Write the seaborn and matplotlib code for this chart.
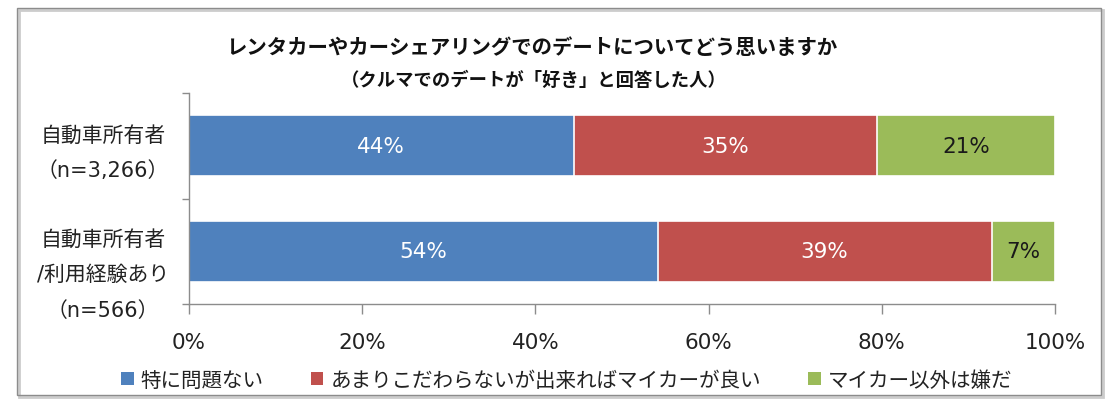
import matplotlib
matplotlib.use("Agg")
import matplotlib.pyplot as plt
from matplotlib.patches import Rectangle, Patch
from matplotlib.transforms import ScaledTranslation
import numpy as np
import seaborn as sns

# ---- data ----
categories = ["自動車所有者\n（n=3,266）", "自動車所有者\n/利用経験あり\n（n=566）"]
series_names = ["特に問題ない", "あまりこだわらないが出来ればマイカーが良い", "マイカー以外は嫌だ"]
no_problem = [44.4, 54.1]
prefer_own = [35.0, 38.6]
only_own = [20.6, 7.3]
x_ticks = [0, 20, 40, 60, 80, 100]
x_tick_labels = ["0%", "20%", "40%", "60%", "80%", "100%"]
title_line1 = "レンタカーやカーシェアリングでのデートについてどう思いますか"
title_line2 = "（クルマでのデートが「好き」と回答した人）"

colors = ["#4F81BD", "#C0504D", "#9BBB59"]
label_colors = ["white", "white", "#1a1a1a"]

sns.set_theme(style="white")
plt.rcParams["font.family"] = ["DejaVu Sans", "Noto Sans CJK JP"]
cjk = ["Noto Sans CJK JP", "DejaVu Sans"]

fig = plt.figure(figsize=(11.16, 4.06), dpi=100)
ax = fig.add_axes([189/1116, 101/406, 866/1116, 211/406])

series = [no_problem, prefer_own, only_own]
cum = np.cumsum(np.array(series), axis=0)  # shape (3, n)

# draw cumulative bars from the largest to the smallest so segments stack
for i in reversed(range(len(series))):
    sns.barplot(x=list(cum[i]), y=categories, orient="h", color=colors[i],
                width=0.58, edgecolor="white", linewidth=1.2, saturation=1,
                ax=ax)

# value labels
for i in range(len(series)):
    for j in range(len(categories)):
        start = cum[i][j] - series[i][j]
        ax.text(start + series[i][j] / 2, j, f"{series[i][j]:.0f}%",
                ha="center", va="center", color=label_colors[i], fontsize=15.5)

ax.set_xlim(0, 100)
ax.set_ylim(1.5, -0.5)
ax.set_xlabel("")
ax.set_ylabel("")
ax.set_xticks(x_ticks)
ax.set_xticklabels(x_tick_labels, fontsize=15.5, color="#222222")

ax.set_yticks(range(len(categories)))
ax.set_yticklabels(categories, fontsize=15, color="#222222",
                   ha="center", multialignment="center", linespacing=1.95)
ax.tick_params(axis="y", which="major", length=0, pad=62)
ax.set_yticks([-0.5, 0.5, 1.5], minor=True)
ax.tick_params(axis="y", which="minor", length=5, width=1, color="#8c8c8c",
               direction="out", left=True)
ax.tick_params(axis="x", which="major", length=7, width=1, color="#8c8c8c",
               direction="out", bottom=True, pad=13)
# small vertical nudges so the labels sit as in the original layout
ylabs = ax.get_yticklabels()
for lab, dy in zip(ylabs, [2.2, -9.7]):
    lab.set_transform(lab.get_transform() +
                      ScaledTranslation(0, dy/72, fig.dpi_scale_trans))

for side in ["top", "right"]:
    ax.spines[side].set_visible(False)
for side in ["left", "bottom"]:
    ax.spines[side].set_visible(True)
    ax.spines[side].set_color("#8c8c8c")
    ax.spines[side].set_linewidth(1)
ax.grid(False)

# titles
fig.text(0.476, 0.884, title_line1, ha="center", va="center",
         fontsize=14.7, fontweight="bold", color="#111111", family=cjk)
fig.text(0.478, 0.803, title_line2, ha="center", va="center",
         fontsize=13.2, fontweight="bold", color="#111111", family=cjk)

# legend
handles = [Patch(facecolor=c, edgecolor="none") for c in colors]
fig.legend(handles, series_names, loc="center", bbox_to_anchor=(0.508, 0.062),
           ncol=3, frameon=False, prop={"family": cjk, "size": 14.8},
           handlelength=0.6, handleheight=0.6, handletextpad=0.35,
           columnspacing=2.3, labelcolor="#222222")

# outer chart frame with a faint shadow
fig.patches.append(Rectangle((19/1116, 8/406), 1084/1116, 387/406,
                             transform=fig.transFigure, facecolor="none",
                             edgecolor="#cccccc", linewidth=2, zorder=0))
fig.patches.append(Rectangle((17/1116, 10/406), 1084/1116, 387/406,
                             transform=fig.transFigure, facecolor="none",
                             edgecolor="#8c8c8c", linewidth=1, zorder=1))

fig.savefig("out.png", dpi=100)
